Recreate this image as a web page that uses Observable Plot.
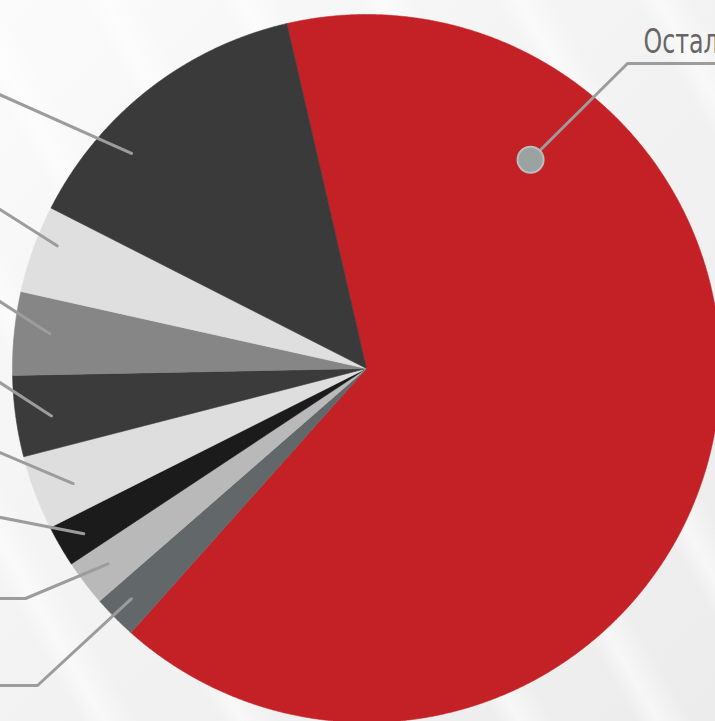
<!DOCTYPE html>
<html>
<head>
<meta charset="utf-8">
<script src="https://cdn.jsdelivr.net/npm/d3@7"></script>
<script src="https://cdn.jsdelivr.net/npm/@observablehq/plot@0.6"></script>
<style>
  html, body { margin: 0; padding: 0; overflow: hidden; width: 715px; height: 721px; }
  body {
    background:
      repeating-linear-gradient(60deg, rgba(255,255,255,0) 0px, rgba(255,255,255,0) 70px, rgba(255,255,255,0.55) 90px, rgba(255,255,255,0) 120px),
      linear-gradient(135deg, #fbfbfb 0%, #f3f3f3 45%, #ececec 100%);
  }
  #chart svg { display: block; }
</style>
</head>
<body>
<div id="chart"></div>
<script>
// ---- data (percent of total) ----
const categories = ["Остальные", "s8", "s7", "s6", "s5", "s4", "s3", "s2", "s1"];
const values     = [65.2, 2.0, 2.1, 1.9, 3.4, 3.7, 3.8, 4.0, 13.9];
const labelText  = ["Остальные", "", "", "", "", "", "", "", ""];

// ---- styles / layout (kept separate from data) ----
const colors = ["#c42127", "#62686a", "#b9b9b9", "#1b1b1b", "#dedede", "#3b3b3b", "#868686", "#dfdfdf", "#3a3a3a"];
const W = 715, H = 721;
const CX = 366, CY = 368, R = 354;
const START = -13 * Math.PI / 180;
// leader anchor inside each slice: fraction of slice span, fraction of radius
const leaderFrac = [0.218, 0.54, 0.53, 0.47, 0.43, 0.44, 0.54, 0.63, 0.31];
const leaderRad  = [0.75, 0.93, 0.915, 0.925, 0.89, 0.90, 0.90, 0.94, 0.90];
// outer route of each leader line (towards its label)
const leaderRoute = [
  [[627, 63], [730, 63]],
  [[37, 685], [-10, 685]],
  [[25, 598], [-10, 598]],
  [[-10, 515]],
  [[-10, 448]],
  [[-10, 376]],
  [[-10, 295]],
  [[-10, 203]],
  [[-10, 90]]
];

const pie = d3.pie().sort(null).startAngle(START).endAngle(START + 2 * Math.PI)(values);
const polar = (a, r) => [CX + r * Math.sin(a), CY - r * Math.cos(a)];

// slice polygons
const slicePts = [];
pie.forEach((p, i) => {
  const key = categories[i];
  slicePts.push({key, x: CX, y: CY});
  const n = Math.max(4, Math.ceil((p.endAngle - p.startAngle) / (0.2 * Math.PI / 180)));
  for (let k = 0; k <= n; k++) {
    const a = p.startAngle + (p.endAngle - p.startAngle) * k / n;
    const [x, y] = polar(a, R);
    slicePts.push({key, x, y});
  }
  slicePts.push({key, x: CX, y: CY});
});

// leader lines
const leaderPts = [];
const anchors = [];
pie.forEach((p, i) => {
  const key = categories[i];
  const a = p.startAngle + (p.endAngle - p.startAngle) * leaderFrac[i];
  const [x0, y0] = polar(a, R * leaderRad[i]);
  anchors.push({key, x: x0, y: y0});
  leaderPts.push({key, x: x0, y: y0});
  leaderRoute[i].forEach(([x, y]) => leaderPts.push({key, x, y}));
});

const redAnchor = anchors[0];
const labels = [{x: 643, y: 52, text: labelText[0]}];

const chart = Plot.plot({
  width: W, height: H,
  margin: 0,
  style: {background: "transparent", overflow: "hidden"},
  x: {domain: [0, W], range: [0, W], axis: null},
  y: {domain: [0, H], range: [0, H], axis: null},
  color: {domain: categories, range: colors},
  marks: [
    Plot.line(slicePts, {x: "x", y: "y", z: "key", fill: "key", stroke: "key", strokeWidth: 0.6, curve: "linear"}),
    Plot.line(leaderPts, {x: "x", y: "y", z: "key", stroke: "#9c9c9c", strokeWidth: 3, strokeLinecap: "round", strokeLinejoin: "miter"}),
    Plot.dot([redAnchor], {x: "x", y: "y", r: 13, fill: "#9aa2a2", stroke: "#bcbcbc", strokeWidth: 2}),
    Plot.text(labels, {x: "x", y: "y", text: "text", textAnchor: "start", lineAnchor: "bottom",
      fontSize: 33, fill: "#666", fontFamily: "'DejaVu Sans Condensed', 'DejaVu Sans', sans-serif"})
  ]
});
// condensed look of the label lettering
d3.select(chart).selectAll("g[aria-label='text'] text").each(function () {
  const t = this.getAttribute("transform") || "";
  this.setAttribute("transform", t + " scale(0.8,1)");
});
document.getElementById("chart").appendChild(chart);
</script>
</body>
</html>
